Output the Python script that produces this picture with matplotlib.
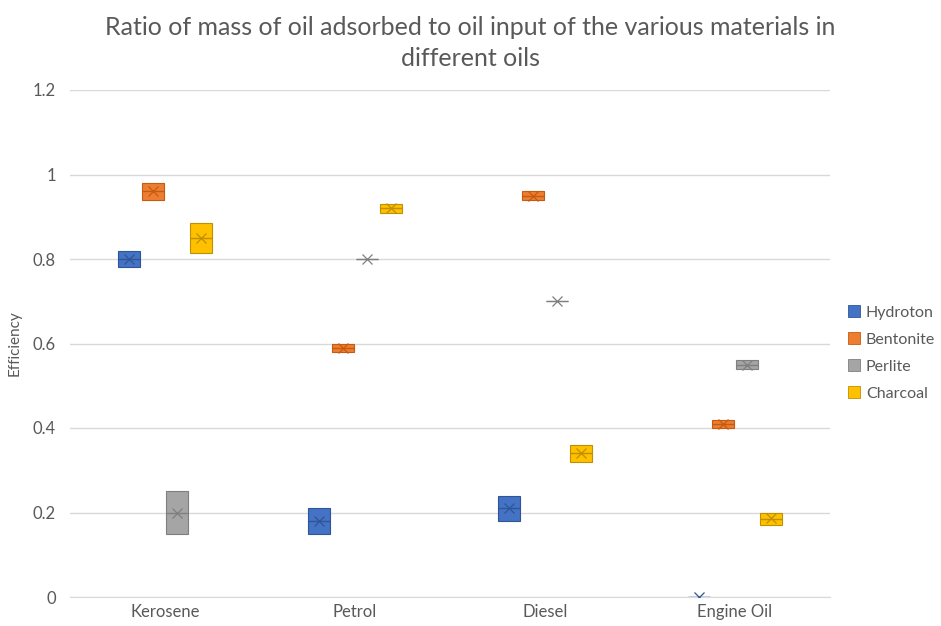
import matplotlib
matplotlib.use('Agg')
import matplotlib.pyplot as plt
from matplotlib.patches import Patch

oils = ['Kerosene', 'Petrol', 'Diesel', 'Engine Oil']
materials = ['Hydroton', 'Bentonite', 'Perlite', 'Charcoal']
colors = ['#4472C4', '#ED7D31', '#A5A5A5', '#FFC000']
edge_colors = ['#2F5597', '#C55A11', '#7F7F7F', '#BF9000']

# box lower edge, median, upper edge, mean -- one row per material, one column per oil
low = [
    [0.78, 0.15, 0.18, 0.00],
    [0.94, 0.58, 0.94, 0.40],
    [0.15, 0.80, 0.70, 0.54],
    [0.815, 0.91, 0.32, 0.17],
]
median = [
    [0.80, 0.18, 0.21, 0.00],
    [0.96, 0.59, 0.95, 0.41],
    [0.20, 0.80, 0.70, 0.55],
    [0.85, 0.92, 0.34, 0.185],
]
high = [
    [0.82, 0.21, 0.24, 0.00],
    [0.98, 0.60, 0.96, 0.42],
    [0.25, 0.80, 0.70, 0.56],
    [0.885, 0.93, 0.36, 0.20],
]
mean = [
    [0.80, 0.18, 0.21, 0.00],
    [0.96, 0.59, 0.95, 0.41],
    [0.20, 0.80, 0.70, 0.55],
    [0.85, 0.92, 0.34, 0.187],
]

offsets = [-0.19, -0.063, 0.063, 0.19]
box_w = 0.115

plt.rcParams['font.family'] = ['Lato', 'DejaVu Sans']
text_col = '#595959'

fig = plt.figure(figsize=(9.41, 6.26), dpi=100)
ax = fig.add_axes([70 / 941, 1 - 597 / 626, 760 / 941, 507 / 626])

for m in range(len(materials)):
    stats = []
    for o in range(len(oils)):
        stats.append({
            'med': median[m][o], 'q1': low[m][o], 'q3': high[m][o],
            'whislo': low[m][o], 'whishi': high[m][o],
            'mean': mean[m][o], 'fliers': [],
        })
    pos = [o + offsets[m] for o in range(len(oils))]
    ax.bxp(stats, positions=pos, widths=box_w, patch_artist=True,
           showmeans=True, showcaps=False,
           boxprops=dict(facecolor=colors[m], edgecolor=edge_colors[m], linewidth=0.8),
           medianprops=dict(color=edge_colors[m], linewidth=1.0),
           whiskerprops=dict(color=edge_colors[m], linewidth=0.8),
           meanprops=dict(marker='x', markeredgecolor=edge_colors[m],
                          markersize=7, markeredgewidth=0.9),
           manage_ticks=False, zorder=3)

ax.set_xlim(-0.5, len(oils) - 0.5)
ax.set_ylim(0, 1.2)
ax.set_yticks([0, 0.2, 0.4, 0.6, 0.8, 1.0, 1.2])
ax.set_yticklabels(['0', '0.2', '0.4', '0.6', '0.8', '1', '1.2'])
ax.set_xticks(range(len(oils)))
ax.set_xticklabels(oils)
ax.tick_params(axis='both', length=0, colors=text_col, labelsize=12)
ax.tick_params(axis='y', pad=10)
ax.tick_params(axis='x', pad=5)
ax.grid(axis='y', color='#D9D9D9', linewidth=1)
ax.set_axisbelow(True)
for s in ['top', 'right', 'left']:
    ax.spines[s].set_visible(False)
ax.spines['bottom'].set_color('#D9D9D9')

ax.set_ylabel('Efficiency', color=text_col, fontsize=11, labelpad=8)
fig.suptitle('Ratio of mass of oil adsorbed to oil input of the various materials in\ndifferent oils',
             color=text_col, fontsize=18, y=0.975, linespacing=1.45)

handles = [Patch(facecolor=c, edgecolor=e, linewidth=0.6) for c, e in zip(colors, edge_colors)]
fig.legend(handles, materials, loc='center left', bbox_to_anchor=(834 / 941, 1 - 353 / 626),
           frameon=False, fontsize=11.5, labelcolor=text_col, handlelength=0.7,
           handleheight=0.7, handletextpad=0.4, labelspacing=0.8)

fig.savefig('out.png', dpi=100)
